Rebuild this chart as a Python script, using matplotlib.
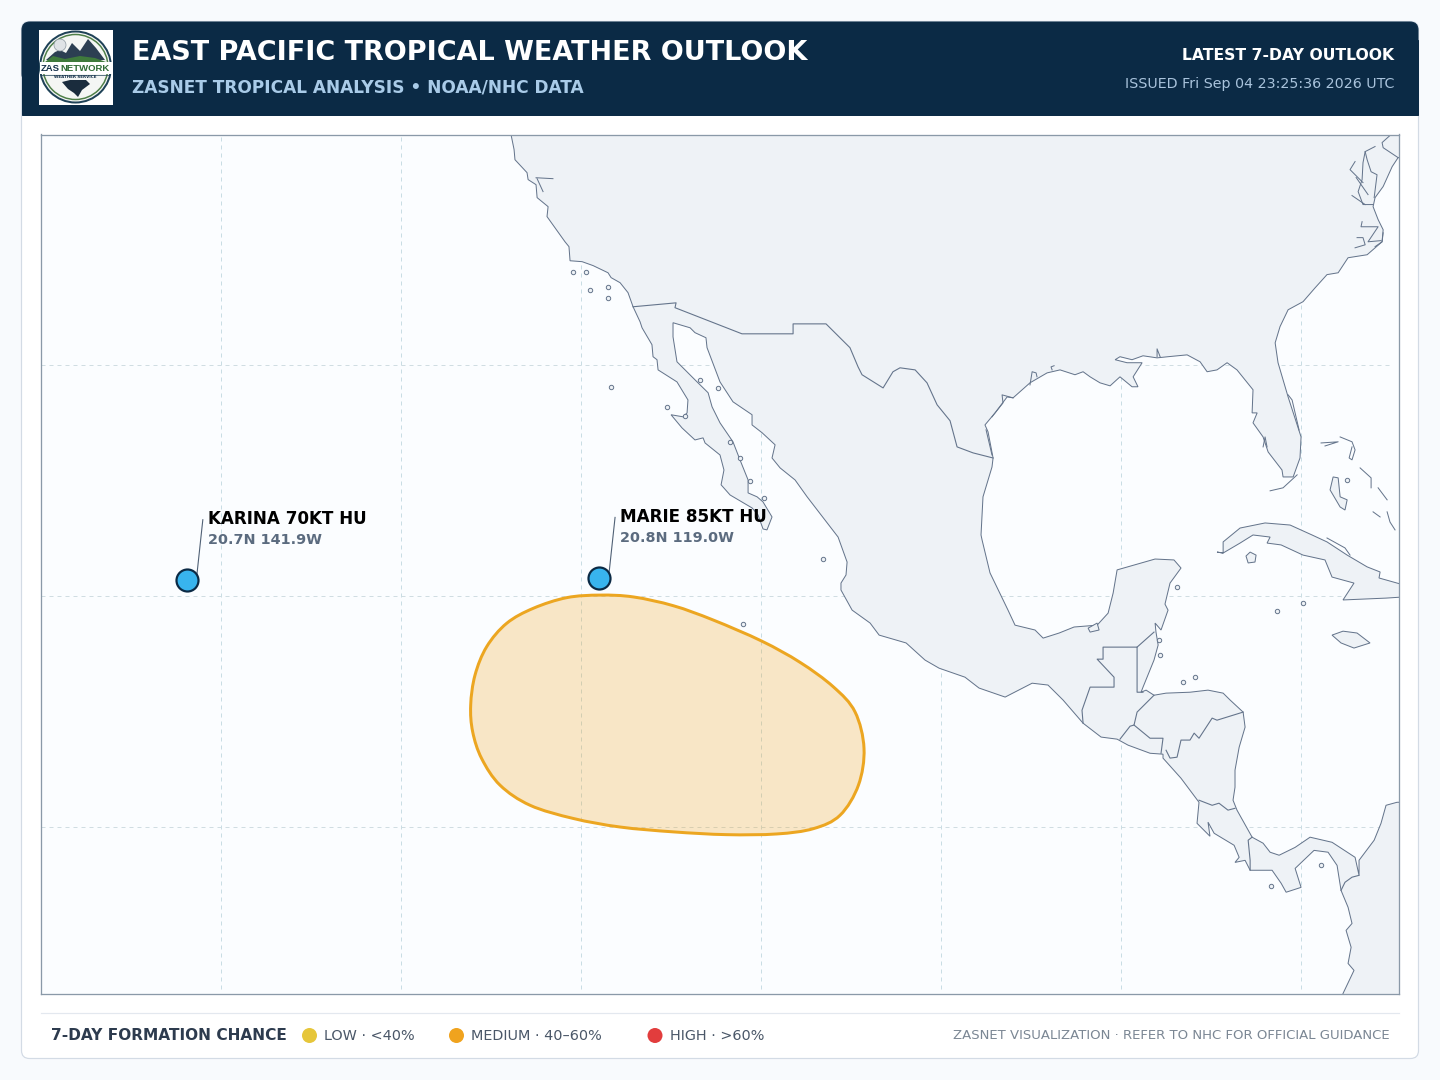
import numpy as np
import matplotlib
matplotlib.use("Agg")
import matplotlib.pyplot as plt
from matplotlib.patches import Rectangle, FancyBboxPatch, Circle, Polygon, PathPatch
from matplotlib.path import Path

# map window (degrees)
lon_min, lon_max = -150.0, -74.56
lat_min, lat_max = 2.81, 39.96
grid_lons = [-140, -130, -120, -110, -100, -90, -80]
grid_lats = [30, 20, 10]

# storms
storm_names = ["KARINA 70KT HU", "MARIE 85KT HU"]
storm_pos = ["20.7N 141.9W", "20.8N 119.0W"]
storm_lon = [-141.9, -119.0]
storm_lat = [20.7, 20.8]

# legend
legend_labels = ["LOW · <40%", "MEDIUM · 40–60%", "HIGH · >60%"]
legend_colors = ["#e6c63a", "#f0a31e", "#e23d3d"]

# 7-day area
area_lon = [-118.94, -117.09, -114.87, -112.65, -109.96, -107.83, -105.98, -104.78, -104.28, -104.59, -105.61, -107.09,
            -109.13, -111.91, -114.87, -117.83, -120.43, -122.83, -124.5, -125.52, -126.02, -126.13, -125.89, -125.24,
            -124.13, -122.65, -120.79]
area_lat = [20.04, 19.96, 19.58, 18.96, 18.05, 17.13, 16.07, 14.99, 13.41, 11.82, 10.52, 9.94,
            9.71, 9.68, 9.8, 10.01, 10.38, 10.95, 11.82, 12.97, 14.13, 15.28, 16.58, 17.81,
            18.82, 19.47, 19.93]

# north + central america outline, pacific side first
land_lon = [-123.95, -123.89, -123.72, -123.67, -123.0, -122.94, -122.5, -122.44, -121.83, -121.89, -120.89, -120.67,
            -120.61, -119.94, -119.33, -118.5, -118.33, -117.83, -117.39, -117.11, -116.72, -116.61, -116.06, -116.0,
            -115.78, -115.72, -114.67, -114.06, -114.11, -114.33, -115.0, -114.39, -113.67, -113.22, -113.11, -112.28,
            -112.06, -112.22, -111.72, -110.5, -110.17, -109.89, -109.67, -109.39, -109.89, -110.22, -110.72, -110.72,
            -111.17, -111.56, -112.28, -112.72, -112.94, -113.67, -114.67, -114.89, -114.89, -113.94, -113.67, -113.06,
            -113.0, -112.28, -111.56, -110.5, -110.5, -109.94, -109.22, -109.39, -108.94, -108.11, -107.44, -105.72,
            -105.22, -105.28, -105.56, -105.56, -104.94, -103.94, -103.44, -101.94, -100.89, -100.11, -98.67, -97.89,
            -96.44, -94.94, -94.06, -93.22, -92.11, -91.11, -90.22, -89.61, -88.39, -87.67, -87.67, -86.67, -85.67,
            -85.78, -85.06, -85.17, -84.83, -83.72, -83.44, -83.67, -83.11, -82.83, -81.61, -81.11, -80.83, -80.0,
            -80.33, -79.28, -78.5, -78.0, -77.78, -77.39, -77.17, -77.5, -77.22, -77.39, -77.06, -77.67, -77.9,
            -74.0, -74.0, -74.67, -75.28, -75.56, -75.94, -76.78, -76.78, -77.0, -78.28, -79.5, -80.33, -81.22, -81.72,
            -82.11, -82.72, -83.56, -83.78, -83.67, -83.67, -83.44, -83.11, -83.22, -83.94, -84.33, -85.17, -86.17,
            -87.5, -88.17, -88.61, -88.89, -88.78, -88.17, -87.94, -88.06, -88.11, -87.78, -87.39, -87.56, -87.28,
            -86.67, -87.06, -88.11, -90.22, -90.44, -90.72, -91.33, -92.61, -93.44, -94.33, -94.78, -95.89, -96.28,
            -97.28, -97.72, -97.78, -97.67, -97.17, -97.11, -97.39, -97.56, -97.0, -96.33, -96.0, -95.06, -94.11,
            -93.39, -92.56, -92.11, -91.72, -91.17, -90.61, -90.06, -89.39, -89.06, -89.33, -88.83, -89.67, -90.33,
            -90.06, -89.39, -88.78, -88.0, -87.39, -86.33, -85.61, -85.22, -84.67, -84.11, -83.56, -82.67, -82.72,
            -82.44, -82.67, -82.11, -81.83, -81.06, -81.0, -80.44, -80.06, -80.0, -80.72, -81.28, -81.44, -81.17,
            -80.72, -79.89, -79.22, -78.56, -77.94, -77.39, -76.33, -75.5, -75.44, -75.72, -76.0, -75.89, -75.44,
            -74.94, -74.61, -74.0, -74.0, -123.95]
land_lat = [41.0, 39.96, 39.31, 38.87, 38.31, 38.01, 37.79, 37.23, 36.84, 36.41, 35.32, 35.11,
            34.5, 34.46, 34.29, 33.98, 33.77, 33.55, 33.12, 32.51, 31.86, 31.6, 30.87, 30.35,
            30.22, 29.78, 29.26, 28.48, 27.92, 27.75, 27.84, 27.27, 26.75, 26.84, 26.62, 26.1,
            25.45, 24.81, 24.37, 23.81, 23.51, 22.9, 22.86, 23.42, 24.07, 24.29, 24.46, 25.02,
            25.89, 26.67, 27.49, 28.18, 28.79, 29.35, 30.13, 31.21, 31.82, 31.6, 31.39, 31.17,
            30.74, 29.26, 28.4, 27.84, 27.4, 27.06, 26.54, 25.97, 25.54, 25.02, 24.29, 22.55,
            21.47, 20.91, 20.56, 20.26, 19.39, 18.83, 18.31, 17.97, 17.23, 16.88, 16.49, 16.02,
            15.63, 16.23, 16.15, 15.5, 14.5, 13.9, 13.81, 13.55, 13.2, 13.16, 12.99, 12.12, 11.08,
            10.17, 9.61, 10.22, 9.74, 9.22, 8.7, 8.48, 8.57, 8.14, 8.14, 7.58, 7.19, 7.4,
            8.22, 9.0, 8.92, 8.35, 7.27, 6.54, 5.84, 5.54, 4.81, 4.11, 3.81, 2.81, 2.0,
            2.0, 11.08, 11.08, 10.95, 10.17, 9.44, 8.57, 7.92, 8.7, 9.35, 9.57, 9.13, 8.79, 8.92,
            9.31, 9.57, 10.74, 11.17, 11.73, 12.47, 13.46, 14.33, 14.98, 15.5, 15.8, 15.93, 15.84,
            15.8, 15.71, 15.93, 15.84, 16.06, 17.23, 17.88, 18.44, 18.83, 18.53, 19.39, 19.65, 20.56,
            21.21, 21.56, 21.6, 21.13, 20.13, 19.26, 18.74, 18.66, 18.4, 18.18, 18.53, 18.74, 19.39,
            21.0, 22.42, 22.64, 24.29, 25.58, 25.97, 27.1, 27.4, 27.92, 28.61, 28.57, 29.22, 29.65,
            29.78, 29.57, 29.7, 29.48, 29.22, 29.09, 29.48, 29.05, 29.05, 29.48, 30.09, 30.09, 30.22,
            30.35, 30.22, 30.39, 30.3, 30.35, 30.43, 30.13, 29.7, 29.78, 30.09, 29.78, 28.92, 27.92,
            27.92, 27.49, 26.88, 26.23, 25.45, 25.15, 25.15, 25.97, 26.88, 28.61, 30.09, 30.95, 31.65,
            32.38, 32.73, 33.33, 33.9, 33.98, 34.63, 34.76, 35.32, 35.84, 36.28, 36.84, 37.23, 37.71,
            38.57, 38.96, 38.96, 41.0, 41.0]

# islands big enough to have a shape
cuba_lon = [-84.67, -84.33, -84.33, -83.39, -82.0, -80.61, -79.39, -78.56, -77.44, -76.33, -75.61, -75.67, -74.3, -74.3,
            -75.28, -77.67, -77.06, -78.28, -78.67, -79.89, -81.11, -81.89, -81.72, -82.67, -83.39, -84.33]
cuba_lat = [21.9, 21.86, 22.34, 22.94, 23.16, 23.07, 22.64, 22.34, 21.77, 21.26, 21.04, 20.78, 20.48, 19.96,
            19.91, 19.83, 20.56, 20.82, 21.56, 21.77, 22.21, 22.29, 22.55, 22.64, 22.29, 21.86]
youth_lon = [-83.06, -82.83, -82.5, -82.56, -82.94]
youth_lat = [21.73, 21.9, 21.77, 21.47, 21.43]
jamaica_lon = [-78.28, -77.67, -76.89, -76.17, -77.06, -77.78]
jamaica_lat = [18.31, 18.48, 18.4, 17.97, 17.75, 17.97]
andros_lon = [-78.39, -78.22, -77.94, -77.83, -77.44, -77.56, -77.83]
andros_lat = [24.59, 25.15, 25.11, 24.29, 24.16, 23.72, 23.85]
terminos_lon = [-91.83, -91.33, -91.22, -91.72]
terminos_lat = [18.61, 18.83, 18.53, 18.44]

# tiny islands
small_lon = [-118.33, -115.22, -114.22, -120.44, -119.72, -118.5, -119.5, -118.5, -113.39, -112.39, -111.72, -111.17,
             -110.61, -109.83, -106.56, -111.0, -86.89, -87.89, -87.83, -86.56, -85.89, -81.33, -79.89, -77.44,
             -78.89, -81.67]
small_lat = [29.05, 28.18, 27.79, 34.03, 34.03, 33.38, 33.25, 32.9, 29.35, 29.0, 26.67, 25.97,
             24.98, 24.24, 21.6, 18.79, 20.39, 18.1, 17.45, 16.28, 16.49, 19.35, 19.7, 25.02,
             8.35, 7.45]

# borders and open coast bits, (lons, lats)
border_lines = [
    ([-117.11, -114.72, -114.78, -111.06, -108.22, -108.22, -106.39, -105.06, -104.61, -104.39, -103.22, -102.67,
      -102.28, -101.44, -100.78, -100.22, -99.5, -99.11, -98.22, -97.11],
     [32.51, 32.68, 32.47, 31.34, 31.34, 31.77, 31.77, 30.74, 29.91, 29.57, 29.0, 29.7,
      29.87, 29.78, 29.22, 28.27, 27.58, 26.45, 26.19, 25.97]),
    ([-92.11, -92.17, -91.72, -90.39, -90.39, -91.33, -91.0, -91.0, -89.11, -89.11, -88.78],
     [14.5, 15.06, 16.06, 16.06, 16.49, 17.27, 17.27, 17.79, 17.79, 15.84, 15.84]),
    ([-89.11, -88.17], [17.79, 18.44]),
    ([-88.17, -89.11, -89.28, -89.5, -90.06], [15.71, 14.98, 14.42, 14.37, 13.81]),
    ([-89.28, -88.39, -87.67, -87.78], [14.42, 13.85, 13.85, 13.2]),
    ([-87.5, -87.28, -86.89, -86.67, -86.17, -85.94, -85.67, -84.94, -84.67, -83.22],
     [13.33, 12.99, 13.03, 13.77, 13.77, 14.07, 13.85, 14.72, 14.63, 14.98]),
    ([-85.67, -84.94, -84.56, -84.06, -83.67], [11.17, 10.95, 11.04, 10.74, 10.82]),
    ([-82.72, -82.94, -82.83, -82.83], [9.57, 9.44, 8.57, 8.14]),
    ([-77.78, -77.56, -77.17, -76.78], [7.27, 7.62, 7.84, 7.92]),
]
coast_lines = [
    ([-122.5, -121.56], [38.09, 38.05]),
    ([-122.44, -122.11], [38.05, 37.49]),
    ([-76.44, -76.33, -76.11, -75.78, -75.94], [39.22, 38.87, 38.35, 38.22, 37.23]),
    ([-75.89, -76.44, -76.56, -76.61, -76.83, -76.56, -76.0], [39.44, 39.22, 38.74, 38.01, 37.49, 36.93, 36.93]),
    ([-77.0, -77.28, -76.56], [38.79, 38.44, 37.88]),
    ([-77.17, -76.44], [37.32, 36.93]),
    ([-76.94, -76.28], [38.1, 37.36]),
    ([-75.0, -75.5, -75.44, -74.61], [39.96, 39.61, 39.39, 38.96]),
    ([-76.61, -76.67, -75.72, -76.28, -75.56], [36.19, 35.97, 35.97, 35.32, 35.37]),
    ([-75.44, -75.5, -75.89], [35.71, 35.32, 35.11]),
    ([-77.0, -76.44, -76.56, -76.89], [35.06, 35.19, 35.5, 35.5]),
    ([-80.72, -80.5, -80.11], [28.7, 28.48, 27.18]),
    ([-97.5, -97.17], [27.19, 26.1]),
    ([-78.89, -77.94, -78.67], [26.62, 26.67, 26.49]),
    ([-77.83, -77.17, -77.0, -77.17, -77.33, -77.17], [26.88, 26.67, 26.32, 25.89, 25.97, 26.45]),
    ([-76.72, -76.11, -76.11], [25.54, 25.11, 24.68]),
    ([-75.72, -75.22], [24.68, 24.16]),
    ([-76.0, -75.61], [23.64, 23.42]),
    ([-75.22, -75.06, -74.78], [23.64, 23.2, 22.86]),
    ([-81.72, -81.0, -80.22], [24.55, 24.68, 25.24]),
    ([-78.56, -77.56, -77.28], [22.51, 22.08, 21.77]),
    ([-95.06, -94.94, -94.72, -94.67], [29.13, 29.7, 29.65, 29.48]),
    ([-93.83, -93.89, -93.72], [29.78, 29.91, 29.96]),
    ([-97.17, -96.56, -96.61, -96.0], [27.75, 28.35, 28.7, 28.57]),
    ([-88.0, -88.0, -87.83], [30.35, 30.69, 30.35]),
    ([-82.11, -82.0, -81.89], [26.45, 26.88, 26.45]),
]

NAVY = "#0b2a45"
LAND = "#eef2f6"
COAST = "#64748b"
PX = 1 / 100 * 72  # one pixel in points at dpi 100

fig = plt.figure(figsize=(14.4, 10.8), dpi=100, facecolor="#f8fafd")

# page furniture in pixel coords
bg = fig.add_axes([0, 0, 1, 1])
bg.set_xlim(0, 1440)
bg.set_ylim(1080, 0)
bg.axis("off")

bg.add_patch(FancyBboxPatch((21.5, 21.5), 1397, 1037, boxstyle="round,pad=0,rounding_size=8",
                            fc="white", ec="#d3dbe5", lw=1.2 * PX))
bg.add_patch(FancyBboxPatch((22, 22), 1396, 60, boxstyle="round,pad=0,rounding_size=8",
                            fc=NAVY, ec=NAVY, lw=1 * PX))
bg.add_patch(Rectangle((22, 40), 1396, 75, fc=NAVY, ec=NAVY, lw=1 * PX))

bg.text(132.5, 53, "EAST PACIFIC TROPICAL WEATHER OUTLOOK", color="white", fontsize=19.45, fontweight="bold",
        va="center", ha="left")
bg.text(132.5, 87, "ZASNET TROPICAL ANALYSIS • NOAA/NHC DATA", color="#a9cbe8", fontsize=12.25, fontweight="bold",
        va="center", ha="left")
bg.text(1394, 56, "LATEST 7-DAY OUTLOOK", color="white", fontsize=11.25, fontweight="bold", va="center", ha="right")
bg.text(1394, 84, "ISSUED Fri Sep 04 23:25:36 2026 UTC", color="#a9c3dc", fontsize=10.3, va="center", ha="right")

# logo
bg.add_patch(Rectangle((38.5, 30), 74, 74.5, fc="white", ec="none"))
bg.add_patch(Circle((75.5, 67), 35.5, fc="#f4f6f4", ec="#1f4257", lw=2 * PX))
bg.add_patch(Circle((75.5, 67), 32.5, fc="none", ec="#4f7f48", lw=1.5 * PX))
bg.add_patch(Polygon([[46, 60], [55, 52], [60, 50], [66, 53], [72, 43], [80, 51], [88, 39], [96, 48], [105, 60]],
                     fc="#2c3f52", ec="none"))
bg.add_patch(Polygon([[45, 62], [53, 56], [65, 59], [80, 56], [95, 58], [106, 62]], fc="#3f7a3c", ec="none"))
bg.add_patch(Circle((60, 45), 6, fc="#dfe3e6", ec="#8c97a0", lw=0.5))
bg.add_patch(Rectangle((39.5, 62), 72, 12, fc="white", ec="none"))
bg.text(40.5, 68.5, "ZAS", color="#14304a", fontsize=6.8, fontweight="bold", family="Liberation Sans",
        va="center", ha="left")
bg.text(60.5, 68.5, "NETWORK", color="#2f6b35", fontsize=6.8, fontweight="bold", family="Liberation Sans",
        va="center", ha="left")
bg.plot([41, 110], [74.5, 74.5], color="#1f4257", lw=0.5)
bg.text(75.5, 76.5, "WEATHER SERVICE", color="#14304a", fontsize=2.9, fontweight="bold", va="center", ha="center")
bg.add_patch(Polygon([[62, 82], [70, 80], [86, 80], [90, 84], [82, 90], [78, 97], [74, 93], [68, 89]],
                     fc="#1a2c3d", ec="none"))

# footer
bg.plot([41, 1399], [1012.5, 1012.5], color="#e3e8ef", lw=1.2 * PX)
bg.text(51, 1035.5, "7-DAY FORMATION CHANCE", color="#2d3b4e", fontsize=11.05, fontweight="bold",
        va="center", ha="left")
legend_dot_x = [309.5, 456.5, 655]
legend_text_x = [324, 471, 670]
for i in range(3):
    bg.add_patch(Circle((legend_dot_x[i], 1035.5), 7.5, fc=legend_colors[i], ec="none"))
    bg.text(legend_text_x[i], 1035.5, legend_labels[i], color="#4a5768", fontsize=10.4, va="center", ha="left")
bg.text(1390, 1035.5, "ZASNET VISUALIZATION · REFER TO NHC FOR OFFICIAL GUIDANCE", color="#7b8794", fontsize=9.53,
        va="center", ha="right")

# map
ax = fig.add_axes([41 / 1440, 1 - 993.5 / 1080, 1358 / 1440, 859 / 1080])
ax.set_facecolor("#fbfdff")
ax.set_xlim(lon_min, lon_max)
ax.set_ylim(lat_min, lat_max)
ax.set_xticks([])
ax.set_yticks([])
for s in ax.spines.values():
    s.set_color("#8a99a8")
    s.set_linewidth(1.3 * PX)
    s.set_zorder(10)

for g in grid_lons:
    ax.plot([g, g], [3.0, lat_max], color="#c9dde4", lw=1 * PX, ls=(0, (4, 4)), zorder=1)
for g in grid_lats:
    ax.plot([lon_min, -75], [g, g], color="#d0dde2", lw=1 * PX, ls=(0, (4, 4)), zorder=1)

ax.fill(land_lon, land_lat, fc=LAND, ec=COAST, lw=1 * PX, zorder=2)
for lons, lats in [(cuba_lon, cuba_lat), (youth_lon, youth_lat), (jamaica_lon, jamaica_lat),
                   (andros_lon, andros_lat), (terminos_lon, terminos_lat)]:
    ax.fill(lons, lats, fc=LAND, ec=COAST, lw=1 * PX, zorder=2)
for lons, lats in coast_lines:
    ax.plot(lons, lats, color=COAST, lw=1 * PX, zorder=3)
for lons, lats in border_lines:
    ax.plot(lons, lats, color=COAST, lw=1.1 * PX, zorder=3)
ax.scatter(small_lon, small_lat, s=10, fc=LAND, ec=COAST, lw=0.7, zorder=3)

# smooth closed outline for the outlook area
pts = np.column_stack((area_lon, area_lat))
n = len(pts)
verts = [pts[0]]
codes = [Path.MOVETO]
for i in range(n):
    p0, p1, p2, p3 = pts[i - 1], pts[i], pts[(i + 1) % n], pts[(i + 2) % n]
    verts += [p1 + (p2 - p0) / 6, p2 - (p3 - p1) / 6, p2]
    codes += [Path.CURVE4] * 3
area_path = Path(verts, codes)
ax.add_patch(PathPatch(area_path, fc="#f0a31e", ec="none", alpha=0.25, zorder=4))
ax.add_patch(PathPatch(area_path, fc="none", ec="#eca621", lw=3 * PX, zorder=5))

# storms
for i in range(2):
    ax.plot([storm_lon[i] + 0.56, storm_lon[i] + 0.89], [storm_lat[i] + 0.22, storm_lat[i] + 2.6],
            color="#4f6075", lw=1.1 * PX, zorder=6)
    ax.scatter(storm_lon[i], storm_lat[i], s=(22 * PX) ** 2, fc="#38b4ee", ec=NAVY, lw=2.2 * PX, zorder=7)
    ax.annotate(storm_names[i], xy=(storm_lon[i], storm_lat[i]), xytext=(21, 61), textcoords="offset pixels",
                color="black", fontsize=12.1, fontweight="bold", va="center", ha="left", zorder=8)
    ax.annotate(storm_pos[i], xy=(storm_lon[i], storm_lat[i]), xytext=(21, 40), textcoords="offset pixels",
                color="#5b6b7f", fontsize=10.4, fontweight="bold", va="center", ha="left", zorder=8)

fig.savefig("out.png", dpi=100, facecolor=fig.get_facecolor())
